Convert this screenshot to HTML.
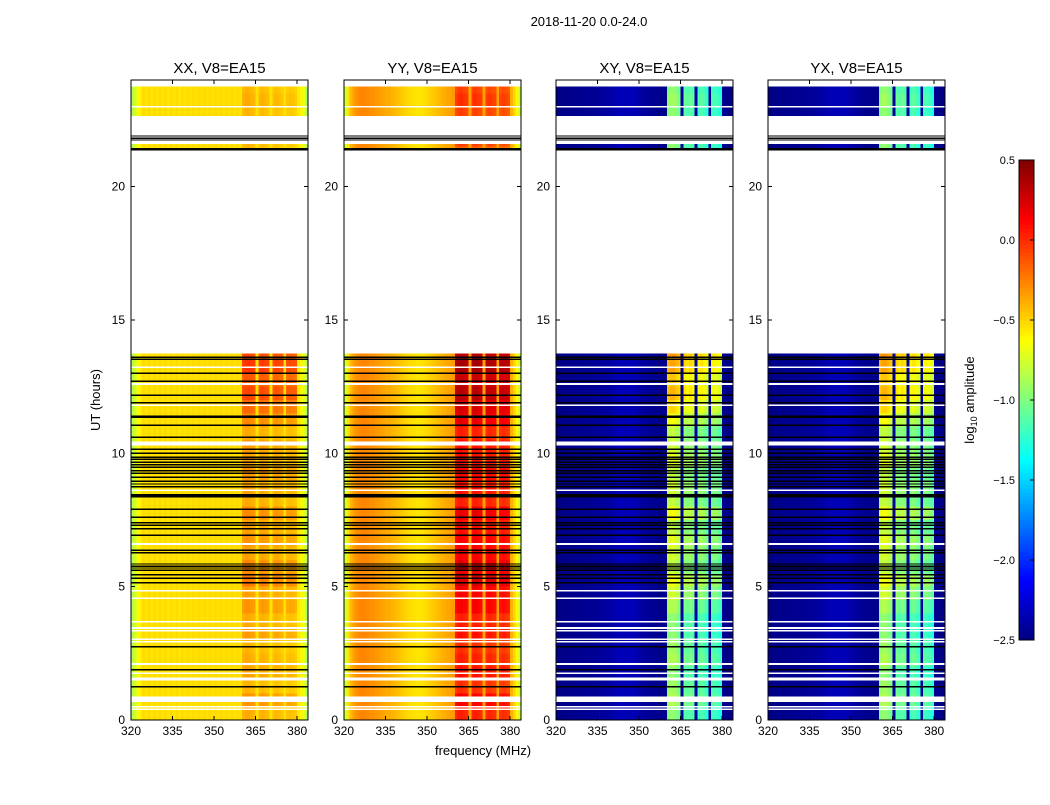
<!DOCTYPE html>
<html><head><meta charset="utf-8">
<style>
body{margin:0;background:#fff;font-family:"Liberation Sans",sans-serif;}
svg text{font-family:"Liberation Sans","DejaVu Sans",sans-serif;}
</style></head>
<body>
<svg id="fig" width="1050" height="800" xmlns="http://www.w3.org/2000/svg" shape-rendering="crispEdges">
<text x="589" y="26" font-size="13" text-anchor="middle">2018-11-20 0.0-24.0</text>
<text x="100" y="400" font-size="13" text-anchor="middle" transform="rotate(-90 100 400)">UT (hours)</text>
<text x="483" y="755" font-size="13" text-anchor="middle">frequency (MHz)</text>
<text x="974" y="400" font-size="13" text-anchor="middle" transform="rotate(-90 974 400)">log<tspan font-size="9" dy="3">10</tspan><tspan dy="-3"> amplitude</tspan></text>
</svg>
<script>
// ---- data ----
const panelTitles = ["XX, V8=EA15","YY, V8=EA15","XY, V8=EA15","YX, V8=EA15"];
const xTicks = [320,335,350,365,380];
const yTicks = [0,5,10,15,20];
const cbTicks = [0.5,0.0,-0.5,-1.0,-1.5,-2.0,-2.5];
const cbLabels = ["0.5","0.0","\u22120.5","\u22121.0","\u22121.5","\u22122.0","\u22122.5"];
// channel centres 320..383 MHz (1 MHz), band mask
const bandMask = [0,0,0,0,0,0,0,0,0,0,0,0,0,0,0,0,0,0,0,0,0,0,0,0,0,0,0,0,0,0,0,0,0,0,0,0,0,0,0,0,
 1,1,1,1,1,0,1,1,1,1,0,1,1,1,1,0,1,1,1,1,0,0,0,0];
const profXX = [-0.85,-0.75,-0.65,-0.58,-0.52,-0.55,-0.52,-0.55,-0.52,-0.55,-0.52,-0.55,-0.52,-0.55,-0.52,-0.55,-0.52,-0.55,-0.52,-0.54,-0.52,-0.54,-0.52,-0.54,-0.52,-0.54,-0.52,-0.54,-0.52,-0.54,-0.52,-0.54,-0.52,-0.54,-0.52,-0.54,-0.52,-0.54,-0.52,-0.54,
 -0.45,-0.42,-0.42,-0.44,-0.46,-0.54,-0.46,-0.44,-0.46,-0.48,-0.54,-0.48,-0.46,-0.48,-0.5,-0.54,-0.5,-0.48,-0.5,-0.52,-0.56,-0.6,-0.7,-0.85];
const profYY = [-0.75,-0.55,-0.42,-0.35,-0.3,-0.28,-0.27,-0.27,-0.28,-0.3,-0.3,-0.32,-0.33,-0.35,-0.36,-0.38,-0.38,-0.4,-0.42,-0.44,-0.46,-0.48,-0.5,-0.52,-0.53,-0.54,-0.55,-0.55,-0.54,-0.52,-0.5,-0.48,-0.46,-0.44,-0.42,-0.4,-0.38,-0.36,-0.35,-0.33,
 -0.2,-0.15,-0.15,-0.18,-0.2,-0.35,-0.18,-0.15,-0.18,-0.2,-0.35,-0.2,-0.18,-0.2,-0.22,-0.35,-0.22,-0.2,-0.22,-0.25,-0.4,-0.5,-0.6,-0.8];
const profXY = [-2.48,-2.48,-2.47,-2.47,-2.46,-2.46,-2.46,-2.45,-2.45,-2.45,-2.45,-2.44,-2.44,-2.44,-2.43,-2.42,-2.42,-2.41,-2.4,-2.4,-2.38,-2.36,-2.34,-2.33,-2.34,-2.35,-2.34,-2.33,-2.35,-2.37,-2.39,-2.41,-2.42,-2.43,-2.44,-2.45,-2.45,-2.46,-2.46,-2.46,
 -1.0,-0.95,-0.95,-1.0,-1.05,-2.4,-1.1,-1.15,-1.1,-1.15,-2.4,-1.2,-1.15,-1.2,-1.25,-2.4,-1.2,-1.2,-1.25,-1.3,-2.45,-2.47,-2.48,-2.48];
const profYX = [-2.48,-2.48,-2.47,-2.47,-2.46,-2.46,-2.46,-2.45,-2.45,-2.45,-2.45,-2.44,-2.44,-2.44,-2.43,-2.42,-2.42,-2.41,-2.4,-2.4,-2.38,-2.36,-2.34,-2.33,-2.34,-2.35,-2.34,-2.33,-2.35,-2.37,-2.39,-2.41,-2.42,-2.43,-2.44,-2.45,-2.45,-2.46,-2.46,-2.46,
 -1.0,-0.95,-0.95,-1.0,-1.05,-2.4,-1.1,-1.15,-1.1,-1.15,-2.4,-1.2,-1.15,-1.2,-1.25,-2.4,-1.2,-1.2,-1.25,-1.3,-2.45,-2.47,-2.48,-2.48];
// band boost per 0.5 h bin (0..24 h)
const boostXX = [0.05,0.12,0.02,0.08,0.05,0.02,0.1,0.05,0.12,0.08, 0.2,0.15,0.08,0.12,0.08,0.15,0.05,0.08,0.12,0.08, 0.1,0.05,0.15,0.25,0.35,0.3,0.4,0.35, 0,0,0,0,0,0,0,0,0,0,0,0,0,0,0, 0.02,0.02,0.02,0.05,0.02];
const boostYY = [0.2,0.3,0.15,0.25,0.2,0.15,0.25,0.2,0.3,0.3, 0.4,0.35,0.3,0.3,0.25,0.35,0.2,0.25,0.3,0.25, 0.25,0.2,0.35,0.4,0.5,0.45,0.55,0.5, 0,0,0,0,0,0,0,0,0,0,0,0,0,0,0, 0.1,0.1,0.1,0.15,0.1];
const boostXY = [0.0,0.1,0.05,0.0,0.1,0.05,0.0,0.0,0.1,0.2, 0.3,0.15,0.2,0.25,0.15,0.3,0.15,0.2,0.15,0.25, 0.2,0.15,0.3,0.45,0.55,0.5,0.6,0.65, 0,0,0,0,0,0,0,0,0,0,0,0,0,0,0, 0,0,0,0.05,0];
const boostYX = [0.0,0.1,0.05,0.0,0.1,0.05,0.0,0.0,0.1,0.2, 0.3,0.15,0.2,0.25,0.15,0.3,0.15,0.2,0.15,0.25, 0.2,0.15,0.3,0.45,0.55,0.5,0.6,0.65, 0,0,0,0,0,0,0,0,0,0,0,0,0,0,0, 0,0,0,0.05,0];
const dataSegments = [[0,13.75],[21.45,21.6],[22.65,23.75]];
const whiteLines = [[0.41,0.06],[0.5,0.06],[0.78,0.2],[1.54,0.1],[1.75,0.06],[2.1,0.06],[2.93,0.06],[3.03,0.06],[3.34,0.06],[3.45,0.06],[3.68,0.06],[4.57,0.06],[4.84,0.06],[6.6,0.06],[7.6,0.06],[8.62,0.06],[10.37,0.15],[11.8,0.06],[12.6,0.06],[13.23,0.06],[23.0,0.06]];
const blackLines = [1.25,1.88,2.74,5.15,5.32,5.45,5.62,5.7,5.77,5.85,6.27,6.37,6.93,7.17,7.3,7.4,7.6,7.9,8.37,8.42,8.45,8.75,8.85,8.95,9.1,9.25,9.35,9.48,9.57,9.67,9.78,9.85,10.0,10.16,10.6,11.06,11.35,11.4,11.9,12.18,12.7,13.0,13.53,13.6,21.75,21.82,21.9];
const blackBands = [[21.35,21.45]];

// ---- scales ----
const panelX = [131,344,556,768], PW = 177, PT = 80, PB = 720;
const yS = h => PB - h*(PB-PT)/24;
const xS = (p,f) => panelX[p] + (f-320)*2.77;
const vmin=-2.5, vmax=0.5;
function jet(v){
  let t=(v-vmin)/(vmax-vmin); t=Math.max(0,Math.min(1,t));
  const c=x=>Math.max(0,Math.min(1,x));
  const r=c(1.5-Math.abs(4*t-3)), g=c(1.5-Math.abs(4*t-2)), b=c(1.5-Math.abs(4*t-1));
  return `rgb(${Math.round(r*255)},${Math.round(g*255)},${Math.round(b*255)})`;
}
const NS="http://www.w3.org/2000/svg";
const svg=document.getElementById('fig');
function mk(tag,attrs,parent){const e=document.createElementNS(NS,tag);for(const k in attrs)e.setAttribute(k,attrs[k]);(parent||svg).appendChild(e);return e;}
const profs=[profXX,profYY,profXY,profYX], boosts=[boostXX,boostYY,boostXY,boostYX];

for(let p=0;p<4;p++){
  const g=mk('g',{});
  
  
  const hm=mk('g',{},g);
  
  
  for(let b=0;b<boosts[p].length;b++){
    const t0=b*0.5,t1=t0+0.5;
    for(const s of dataSegments){
      const a=Math.max(t0,s[0]), z=Math.min(t1,s[1]);
      if(z<=a) continue;
      const y1=yS(z), y0=yS(a);
      for(let c=0;c<64;c++){
        const v=profs[p][c]+bandMask[c]*boosts[p][b];
        const x0=xS(p,320+c), x1=Math.min(xS(p,321+c),panelX[p]+PW);
        const r=mk('rect',{x:x0.toFixed(2),y:y1.toFixed(2),width:(x1-x0+0.3).toFixed(2),height:(y0-y1).toFixed(2),fill:jet(v)},hm);
        
        
      }
    }
  }
  for(const w of whiteLines){
    const r=mk('rect',{x:panelX[p],y:yS(w[0]+w[1]/2),width:PW,height:Math.max(1.5,w[1]*26.67),fill:'#fff'},g);
    
    
  }
  for(const h of blackLines){
    const l=mk('line',{x1:panelX[p],x2:panelX[p]+PW,y1:yS(h),y2:yS(h),stroke:'#000','stroke-width':1.4},g);
    
    
  }
  for(const bb of blackBands){
    const r=mk('rect',{x:panelX[p],y:yS(bb[1]),width:PW,height:yS(bb[0])-yS(bb[1]),fill:'#000'},g);
    
    
  }
  const fr=mk('rect',{x:panelX[p],y:PT,width:PW,height:PB-PT,fill:'none',stroke:'#000','stroke-width':1},g);
  
  
  const tt=mk('text',{x:panelX[p]+PW/2,y:PT-7,'font-size':15,'text-anchor':'middle'},g);
  tt.textContent=panelTitles[p];
  
  
  for(const f of xTicks){
    const x=xS(p,f);
    mk('line',{x1:x,x2:x,y1:PB,y2:PB-4,stroke:'#000'},g);
    mk('line',{x1:x,x2:x,y1:PT,y2:PT+4,stroke:'#000'},g);
    const t=mk('text',{x:x,y:PB+15,'font-size':12,'text-anchor':'middle'},g);
    t.textContent=f;
    
    
  }
  for(const h of yTicks){
    const y=yS(h);
    mk('line',{x1:panelX[p],x2:panelX[p]+4,y1:y,y2:y,stroke:'#000'},g);
    mk('line',{x1:panelX[p]+PW,x2:panelX[p]+PW-4,y1:y,y2:y,stroke:'#000'},g);
    const t=mk('text',{x:panelX[p]-6,y:y+4,'font-size':12,'text-anchor':'end'},g);
    t.textContent=h;
    
    
  }
}
// colorbar
const cb=mk('g',{});


const CBX=1019, CBW=15, CBT=160, CBB=640;
const cy=v=>CBB-(v-vmin)*(CBB-CBT)/(vmax-vmin);
for(let i=0;i<120;i++){
  const v0=vmin+i*(vmax-vmin)/120, v1=v0+(vmax-vmin)/120;
  mk('rect',{x:CBX,y:cy(v1),width:CBW,height:cy(v0)-cy(v1)+0.5,fill:jet((v0+v1)/2)},cb);
}
mk('rect',{x:CBX,y:CBT,width:CBW,height:CBB-CBT,fill:'none',stroke:'#000'},cb);
cbTicks.forEach((v,i)=>{
  const y=cy(v);
  mk('line',{x1:CBX+CBW,x2:CBX+CBW-4,y1:y,y2:y,stroke:'#000'},cb);
  const t=mk('text',{x:CBX-4,y:y+4,'font-size':11,'text-anchor':'end'},cb);
  t.textContent=cbLabels[i];
  
  
});
</script>
</body></html>
